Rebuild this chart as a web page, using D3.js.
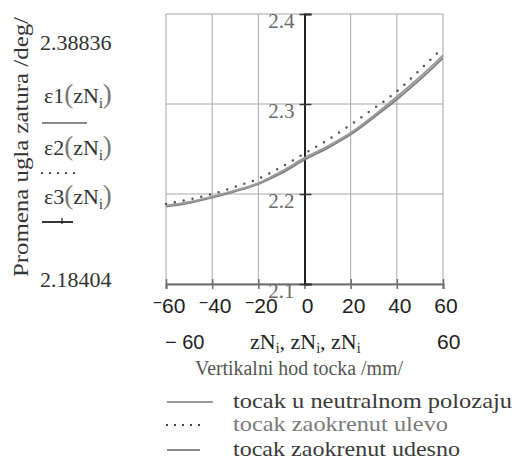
<html lang="en">
  <head>
    <title>Promena ugla zatura</title>
    <script src="https://d3js.org/d3.v7.min.js"></script>
    <style>
    body { margin: 0; background: white; }
    </style>
  </head>
  <body>
    <svg class="chart" width="514" height="460"></svg>
    <script>
      // vertical wheel travel zN /mm/
      var zN = [-60, -50, -40, -30, -20, -10, 0, 10, 20, 30, 40, 50, 60];
      // camber change /deg/
      var eps1 = [2.187, 2.191, 2.197, 2.204, 2.212, 2.225, 2.240, 2.253, 2.268, 2.287, 2.308, 2.330, 2.354];
      var eps2 = [2.189, 2.194, 2.200, 2.208, 2.217, 2.230, 2.245, 2.260, 2.277, 2.295, 2.314, 2.338, 2.363];
      var eps3 = [2.186, 2.190, 2.196, 2.203, 2.211, 2.223, 2.238, 2.251, 2.266, 2.285, 2.305, 2.327, 2.351];
      var xTicks = [-60, -40, -20, 0, 20, 40, 60];
      var yTicks = [2.1, 2.2, 2.3, 2.4];
      var legendLabels = ["tocak u neutralnom polozaju", "tocak zaokrenut ulevo", "tocak zaokrenut udesno"];

      var SERIF = "'Liberation Serif', 'Times New Roman', serif";
      var SANS = "'Liberation Sans', Arial, sans-serif";

      var svg = d3.select(".chart");
      var x = d3.scaleLinear().domain([-60, 60]).range([166, 443]);
      var y = d3.scaleLinear().domain([2.1, 2.4]).range([284, 14]);

      // grid
      var grid = svg.append("g").attr("stroke", "#a8a8a8").attr("stroke-width", 1);
      grid.selectAll("line.vx").data(xTicks).enter().append("line")
        .attr("x1", d => x(d)).attr("x2", d => x(d))
        .attr("y1", y(2.4)).attr("y2", y(2.1));
      grid.selectAll("line.hy").data(yTicks).enter().append("line")
        .attr("x1", x(-60)).attr("x2", x(60))
        .attr("y1", d => y(d)).attr("y2", d => y(d));

      // x axis at bottom
      var xAxis = svg.append("g")
        .attr("transform", "translate(0," + y(2.1) + ")")
        .call(d3.axisBottom(x).tickValues(xTicks).tickSize(5).tickFormat(""));
      xAxis.select(".domain").attr("stroke", "#6e6e6e").attr("stroke-width", 2);
      xAxis.selectAll(".tick line").attr("stroke", "#6e6e6e").attr("stroke-width", 1.5)
        .attr("y1", -5);

      // y axis at x = 0
      var yAxis = svg.append("g")
        .attr("transform", "translate(" + x(0) + ",0)")
        .call(d3.axisRight(y).tickValues(yTicks).tickSize(7).tickFormat(""));
      yAxis.select(".domain").attr("stroke", "#222").attr("stroke-width", 2);
      yAxis.selectAll(".tick line").attr("stroke", "#333").attr("stroke-width", 1.5)
        .attr("x1", -5);

      // y tick labels (left of the axis, just under each line)
      svg.append("g").selectAll("text").data(yTicks).enter().append("text")
        .attr("font-family", SERIF)
        .attr("x", x(0) - 10).attr("y", d => y(d) + 13.5)
        .attr("text-anchor", "end").attr("font-size", 21).attr("fill", "#6a6a6a")
        .text(d => d.toFixed(1));

      // x tick labels, Mathcad style raised minus
      var xl = svg.append("g").selectAll("text").data(xTicks).enter().append("text")
        .attr("font-family", SANS)
        .attr("x", d => x(d) + 3).attr("y", 313)
        .attr("text-anchor", "middle").attr("font-size", 21).attr("fill", "#222");
      xl.filter(d => d < 0).append("tspan").attr("dy", -5).attr("font-size", 16).text("\u2212");
      xl.append("tspan").attr("dy", d => d < 0 ? 5 : 0).text(d => Math.abs(d));

      // curves
      var line = d3.line().x((d, i) => x(zN[i])).y(d => y(d)).curve(d3.curveMonotoneX);
      svg.append("path").datum(eps3).attr("d", line)
        .attr("fill", "none").attr("stroke", "#7d7d7d").attr("stroke-width", 1.8);
      svg.append("path").datum(eps1).attr("d", line)
        .attr("fill", "none").attr("stroke", "#9a9a9a").attr("stroke-width", 2);
      svg.append("path").datum(eps2).attr("d", line)
        .attr("fill", "none").attr("stroke", "#555").attr("stroke-width", 2.5)
        .attr("stroke-linecap", "round").attr("stroke-dasharray", "0,9");

      // y axis title
      svg.append("text").attr("font-family", SERIF)
        .attr("transform", "translate(28,277) rotate(-90)")
        .attr("font-size", 22).attr("fill", "#333")
        .attr("textLength", 260).attr("lengthAdjust", "spacingAndGlyphs")
        .text("Promena ugla zatura /deg/");

      // y range limits
      svg.append("text").attr("font-family", SERIF).attr("x", 40).attr("y", 50)
        .attr("font-size", 22).attr("fill", "#333").text("2.38836");
      svg.append("text").attr("font-family", SERIF).attr("x", 40).attr("y", 287)
        .attr("font-size", 22).attr("fill", "#333").text("2.18404");

      // y expressions with their line styles
      var exprY = [103, 155, 204];
      exprY.forEach(function(yy, k) {
        var t = svg.append("text").attr("font-family", SERIF).attr("x", 44).attr("y", yy)
          .attr("font-size", 22).attr("fill", "#333");
        t.append("tspan").text("\u03b5" + (k + 1));
        t.append("tspan").attr("font-size", 27).attr("fill", "#777").text("(");
        t.append("tspan").text("zN");
        t.append("tspan").attr("font-size", 14).attr("dy", 5).text("i");
        t.append("tspan").attr("font-size", 27).attr("dy", -5).attr("fill", "#777").text(")");
      });
      svg.append("line").attr("x1", 42).attr("x2", 87).attr("y1", 123).attr("y2", 123)
        .attr("stroke", "#888").attr("stroke-width", 2);
      svg.append("line").attr("x1", 42).attr("x2", 80).attr("y1", 173).attr("y2", 173)
        .attr("stroke", "#222").attr("stroke-width", 2.2)
        .attr("stroke-linecap", "round").attr("stroke-dasharray", "0,8");
      svg.append("line").attr("x1", 42).attr("x2", 73).attr("y1", 222).attr("y2", 222)
        .attr("stroke", "#222").attr("stroke-width", 1.8);
      svg.append("line").attr("x1", 62).attr("x2", 62).attr("y1", 218).attr("y2", 224)
        .attr("stroke", "#222").attr("stroke-width", 1.2);

      // x range limits and expression
      svg.append("text").attr("font-family", SANS).attr("x", 165).attr("y", 349)
        .attr("font-size", 20).attr("fill", "#222").text("\u2212 60");
      svg.append("text").attr("font-family", SANS).attr("x", 437).attr("y", 349)
        .attr("font-size", 21).attr("fill", "#222").text("60");
      var xe = svg.append("text").attr("font-family", SERIF).attr("x", 250).attr("y", 349)
        .attr("font-size", 22).attr("fill", "#222");
      [0, 1, 2].forEach(function(k) {
        xe.append("tspan").attr("dy", k === 0 ? 0 : -4).text((k === 0 ? "" : ", ") + "zN");
        xe.append("tspan").attr("font-size", 14).attr("dy", 4).text("i");
      });

      // x axis title
      svg.append("text").attr("font-family", SERIF).attr("x", 195).attr("y", 375)
        .attr("font-size", 20).attr("fill", "#555")
        .attr("textLength", 208).attr("lengthAdjust", "spacingAndGlyphs")
        .text("Vertikalni hod tocka /mm/");

      // bottom legend
      var legY = [408, 431, 456];
      var legLine = [
        {x2: 213, stroke: "#999", dash: null, w: 2},
        {x2: 204, stroke: "#222", dash: "0,8", w: 2.2},
        {x2: 200, stroke: "#888", dash: null, w: 2}
      ];
      var legColor = ["#3a3a3a", "#7a7a7a", "#3a3a3a"];
      var legLen = [279, 215, 227];
      legendLabels.forEach(function(lab, k) {
        var ln = svg.append("line").attr("x1", 167).attr("x2", legLine[k].x2)
          .attr("y1", legY[k] - 6).attr("y2", legY[k] - 6)
          .attr("stroke", legLine[k].stroke).attr("stroke-width", legLine[k].w);
        if (legLine[k].dash) ln.attr("stroke-dasharray", legLine[k].dash).attr("stroke-linecap", "round");
        svg.append("text").attr("font-family", SERIF).attr("x", 233).attr("y", legY[k])
          .attr("font-size", 22).attr("fill", legColor[k])
          .attr("textLength", legLen[k]).attr("lengthAdjust", "spacingAndGlyphs")
          .text(lab);
      });
    </script>
  </body>
</html>
